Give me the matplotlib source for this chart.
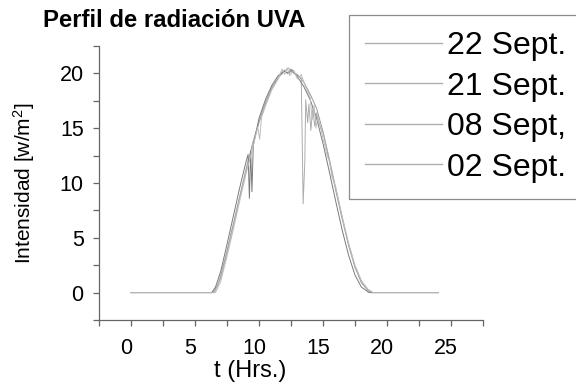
import matplotlib
matplotlib.use("Agg")
import matplotlib.pyplot as plt
from matplotlib.ticker import MultipleLocator
from matplotlib.transforms import ScaledTranslation

plt.rcParams['font.family'] = ['Liberation Sans', 'DejaVu Sans']
plt.rcParams['mathtext.fontset'] = 'custom'
plt.rcParams['mathtext.rm'] = 'Liberation Sans'
plt.rcParams['mathtext.it'] = 'Liberation Sans:italic'

# ---- data ----
labels = ["22 Sept.", "21 Sept.", "08 Sept,", "02 Sept."]

t22 = [0, 6.4, 6.75, 7, 7.5, 8, 8.5, 9, 9.5, 10, 10.5, 11, 11.5, 11.8, 12, 12.2, 12.5, 12.8, 13,
       13.5, 14, 14.5, 15, 15.5, 16, 16.5, 17, 17.5, 18, 18.5, 18.8, 24]
v22 = [0, 0, 0.6, 1.5, 3.8, 6.3, 8.8, 11.3, 13.6, 15.6, 17.3, 18.7, 19.6, 20.1, 20.3, 20.0, 20.4, 20.0, 19.9,
       19.2, 18.1, 16.8, 14.7, 12.0, 9.3, 6.7, 4.3, 2.3, 0.9, 0.2, 0, 0]

t21 = [0, 6.5, 7, 7.5, 8, 8.5, 9, 9.5, 10, 10.5, 11, 11.5, 12, 12.3, 12.6, 13.0, 13.3, 13.45, 13.58,
       13.65, 13.8, 13.9, 14.05, 14.2, 14.35, 14.5, 14.7, 15, 15.5, 16, 16.5, 17, 17.5, 18, 18.5, 18.9, 24]
v21 = [0, 0, 1.3, 3.6, 6.1, 8.7, 11.2, 13.5, 15.5, 17.2, 18.6, 19.6, 20.2, 20.5, 20.1, 19.8, 19.6, 8.1, 12.0,
       17.6, 15.5, 17.2, 14.8, 16.8, 15.2, 16.4, 15.4, 14.6, 12.2, 9.5, 6.9, 4.4, 2.4, 1.0, 0.3, 0, 0]

t08 = [0, 6.3, 6.6, 7, 7.5, 8, 8.5, 9, 9.15, 9.25, 9.35, 9.45, 9.55, 10, 10.5, 11, 11.5, 12, 12.3, 12.6,
       13, 13.5, 14, 14.5, 15, 15.5, 16, 16.5, 17, 17.5, 18, 18.6, 24]
v08 = [0, 0, 0.5, 1.9, 4.4, 7.0, 9.6, 12.0, 12.6, 8.6, 12.9, 9.2, 13.4, 15.9, 17.6, 18.9, 19.8, 20.2, 20.0, 20.3,
       19.7, 18.8, 17.6, 15.9, 13.6, 11.0, 8.3, 5.7, 3.4, 1.6, 0.5, 0, 0]

t02 = [0, 6.6, 7, 7.5, 8, 8.5, 9, 9.5, 9.9, 10.05, 10.2, 10.5, 11, 11.5, 11.8, 12, 12.2, 12.4, 12.7, 13,
       13.3, 13.6, 14.0, 14.15, 14.3, 14.45, 14.6, 15, 15.3, 15.5, 15.7, 16, 16.5, 17, 17.5, 18, 18.5, 18.9, 24]
v02 = [0, 0, 1.0, 3.3, 5.8, 8.4, 10.9, 13.2, 15.1, 14.0, 16.0, 17.0, 18.5, 19.5, 20.4, 19.9, 20.5, 19.8, 20.3, 19.5,
       19.9, 18.9, 17.8, 15.8, 17.1, 15.0, 16.1, 14.1, 12.6, 12.0, 10.6, 9.6, 6.9, 4.5, 2.5, 1.1, 0.3, 0, 0]

series_t = [t22, t21, t08, t02]
series_v = [v22, v21, v08, v02]
colors = ["#9a9a9a", "#acacac", "#7a7a7a", "#bcbcbc"]

fig = plt.figure(figsize=(5.76, 3.85), dpi=100)
ax = fig.add_axes([99/576, 1-320/385, 384/576, 274/385])

for t, v, c, lab in zip(series_t, series_v, colors, labels):
    ax.plot(t, v, color=c, lw=0.7, label=lab)

ax.set_xlim(-2.5, 27.5)
ax.set_ylim(-2.5, 22.5)
ax.xaxis.set_major_locator(MultipleLocator(5))
ax.xaxis.set_minor_locator(MultipleLocator(2.5))
ax.yaxis.set_major_locator(MultipleLocator(5))
ax.yaxis.set_minor_locator(MultipleLocator(2.5))

for s in ["top", "right"]:
    ax.spines[s].set_visible(False)
for s in ["left", "bottom"]:
    ax.spines[s].set_color("#666666")
    ax.spines[s].set_linewidth(0.9)

ax.tick_params(which="both", direction="out", length=4, width=0.9, color="#666666",
               labelsize=15.5)
ax.tick_params(axis="x", pad=9)
ax.tick_params(axis="y", pad=7)
off = ScaledTranslation(-5/100, 0, fig.dpi_scale_trans)
for lbl in ax.get_xticklabels():
    lbl.set_transform(lbl.get_transform() + off)

ax.set_xlabel("t (Hrs.)", fontsize=17, labelpad=1, x=(250-99)/384)
ax.set_ylabel("Intensidad [w/m$^2$]", fontsize=15, labelpad=16)

fig.text(43/576, 1-27/385, "Perfil de radiación UVA", fontsize=17.2, fontweight="bold",
         ha="left", va="baseline")

leg_top = 1 - 15/385
leg = fig.legend(loc="upper left", bbox_to_anchor=(349/576, leg_top - 0.5, 260/576, 0.5),
                 mode="expand", fontsize=23,
                 frameon=True, fancybox=False, framealpha=1, edgecolor="#8c8c8c",
                 handlelength=2.4, handletextpad=0.18, labelspacing=0.33, borderpad=0.5,
                 borderaxespad=0)
leg.get_frame().set_linewidth(0.9)
for h in leg.get_lines():
    h.set_color("#b0b0b0")
    h.set_linewidth(1.0)

fig.savefig("out.png", dpi=100)
